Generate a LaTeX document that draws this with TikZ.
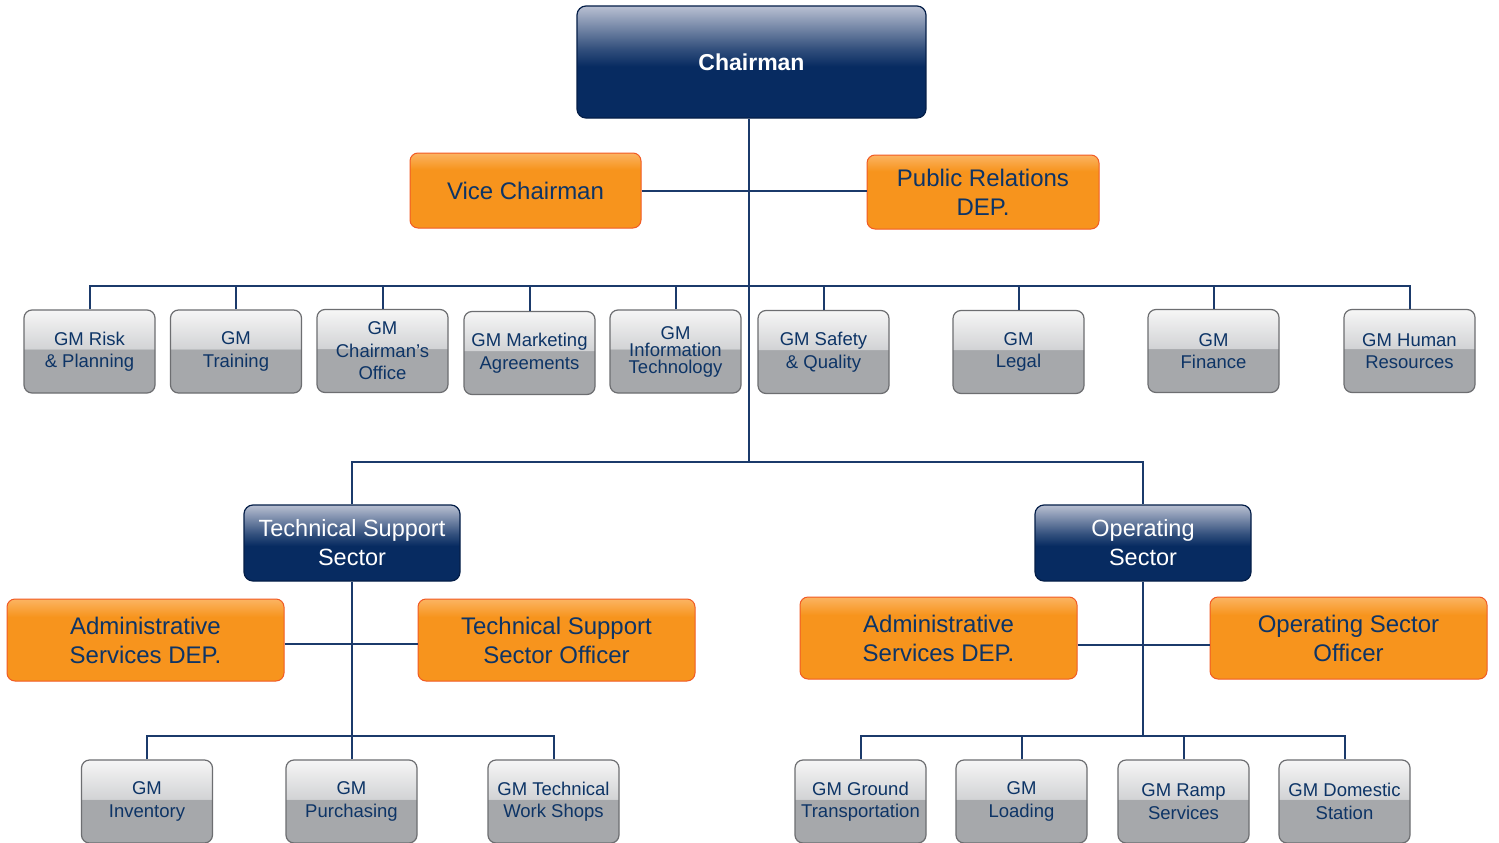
\documentclass[tikz,border=0pt]{standalone}
\usepackage{fontspec}
\setmainfont{Liberation Sans}
\definecolor{navy}{HTML}{072B61}
\definecolor{navytop}{HTML}{B9C0D2}
\definecolor{navyedge}{HTML}{041E48}
\definecolor{linec}{HTML}{1B3A6B}
\definecolor{txt}{HTML}{0D3466}
\definecolor{orng}{HTML}{F7941D}
\definecolor{orngtop}{HTML}{FBB462}
\definecolor{orngedge}{HTML}{F15A24}
\definecolor{gbot}{HTML}{A6A8AB}
\definecolor{gtop}{HTML}{F6F6F6}
\definecolor{gmid}{HTML}{D2D3D5}
\definecolor{gedge}{HTML}{6D6E71}
% path spans 25bp (bottom) .. 75bp (top)
\pgfdeclareverticalshading{navyshade}{100bp}{color(0bp)=(navy); color(48bp)=(navy); color(56bp)=(navy!75!navytop); color(75bp)=(navytop); color(100bp)=(navytop)}
\pgfdeclareverticalshading{grayshade}{100bp}{color(0bp)=(gbot); color(51.3bp)=(gbot); color(51.5bp)=(gmid); color(75bp)=(gtop); color(100bp)=(gtop)}
\pgfdeclareverticalshading{orangeshade}{100bp}{color(0bp)=(orng); color(64bp)=(orng); color(75bp)=(orngtop); color(100bp)=(orngtop)}
\tikzset{
  conn/.style={draw=linec, line width=2pt},
  navybox/.style={rounded corners=9pt, draw=navyedge, line width=1.2pt, shade, shading=navyshade,
    text=white, align=center, inner sep=0pt},
  orangebox/.style={rounded corners=8pt, draw=orngedge, line width=1pt, shade, shading=orangeshade,
    text=txt, align=center, inner sep=0pt, minimum width=231pt, minimum height=75pt,
    font=\fontsize{24}{29}\selectfont},
  bigorange/.style={orangebox, minimum width=277pt, minimum height=82pt},
  graybox/.style={rounded corners=8pt, draw=gedge, line width=1.2pt, shade, shading=grayshade,
    text=txt, align=center, inner sep=0pt, minimum width=131pt, minimum height=83pt,
    font=\fontsize{18.5}{22.5}\selectfont},
}
\begin{document}
\begin{tikzpicture}[x=1pt,y=-1pt]
\useasboundingbox (0,0) rectangle (1499,843);
\fill[white] (0,0) rectangle (1499,843);

% top level
\node[navybox, minimum width=349pt, minimum height=112pt, font=\fontsize{23}{28}\selectfont\bfseries] (chair) at (751.5,62) {Chairman};
\node[orangebox] (vice) at (525.5,190.5) {Vice Chairman};
\node[orangebox, minimum width=232pt, minimum height=74pt] (pr) at (983,192) {Public Relations\\DEP.};

% GM row
\node[graybox] (g1) at (89.5,351.5) {GM Risk\\\& Planning};
\node[graybox] (g2) at (236,351.5) {GM\\Training};
\node[graybox] (g3) at (382.5,351) {GM\\Chairman’s\\Office};
\node[graybox] (g4) at (529.5,353) {GM Marketing\\Agreements};
\node[graybox, font=\fontsize{18.5}{17}\selectfont] (g5) at (675.5,351.5) {GM\\Information\\Technology};
\node[graybox] (g6) at (823.5,352) {GM Safety\\\& Quality};
\node[graybox] (g7) at (1018.5,352) {GM\\Legal};
\node[graybox] (g8) at (1213.5,351) {GM\\Finance};
\node[graybox] (g9) at (1409.5,351) {GM Human\\Resources};

% sectors
\node[navybox, minimum width=216pt, minimum height=76pt, font=\fontsize{23.5}{29}\selectfont] (tss) at (352,543) {Technical Support\\Sector};
\node[navybox, minimum width=216pt, minimum height=76pt, font=\fontsize{23.5}{29}\selectfont] (ops) at (1143,543) {Operating\\Sector};

\node[bigorange] (adm1) at (145.5,640) {Administrative\\Services DEP.};
\node[bigorange] (tsso) at (556.5,640) {Technical Support\\Sector Officer};
\node[bigorange] (adm2) at (938.5,638) {Administrative\\Services DEP.};
\node[bigorange] (oso) at (1348.5,638) {Operating Sector\\Officer};

% bottom GMs
\node[graybox] (b1) at (147,801.5) {GM\\Inventory};
\node[graybox] (b2) at (351.5,801.5) {GM\\Purchasing};
\node[graybox] (b3) at (553.5,801.5) {GM Technical\\Work Shops};
\node[graybox] (b4) at (860.5,801.5) {GM Ground\\Transportation};
\node[graybox] (b5) at (1021.5,801.5) {GM\\Loading};
\node[graybox] (b6) at (1183.5,801.5) {GM Ramp\\Services};
\node[graybox] (b7) at (1344.5,801.5) {GM Domestic\\Station};

% connectors
\coordinate (bus) at (749,286);
\coordinate (hub) at (749,462);
\coordinate (lbus) at (351,736);
\coordinate (rbus) at (1143,736);

\draw[conn] (chair.south -| hub) -- (hub);
\draw[conn] (vice.east) -- (vice.east -| pr.west);
\draw[conn] (g1.north) |- (bus) -| (g9.north);
\foreach \g in {g2,g3,g4,g5,g6,g7,g8} \draw[conn] (\g.north) -- (\g.north |- bus);
\draw[conn] (tss.north) |- (hub) -| (ops.north);

\draw[conn] (tss.south) -- (tss.south |- lbus);
\draw[conn] (adm1.east |- 0,644) -- (tsso.west |- 0,644);
\draw[conn] (b1.north) |- (lbus) -| (b3.north);
\draw[conn] (b2.north) -- (b2.north |- lbus);

\draw[conn] (ops.south) -- (ops.south |- rbus);
\draw[conn] (adm2.east |- 0,645) -- (oso.west |- 0,645);
\draw[conn] (b4.north) |- (rbus) -| (b7.north);
\draw[conn] (b5.north) -- (b5.north |- rbus);
\draw[conn] (b6.north) -- (b6.north |- rbus);
\end{tikzpicture}
\end{document}
